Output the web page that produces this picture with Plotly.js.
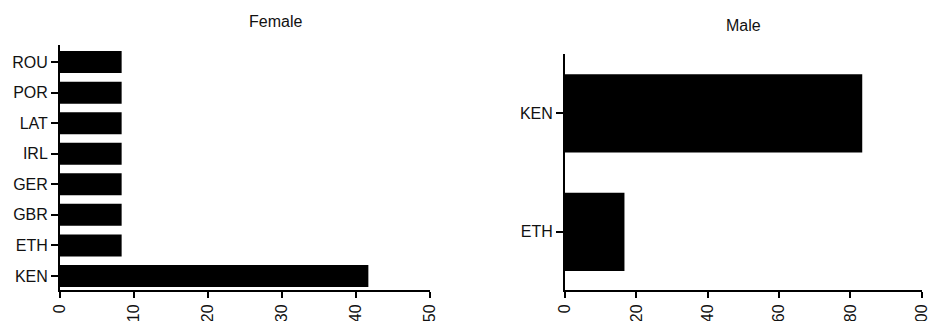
<!DOCTYPE html>
<html>
<head>
<meta charset="utf-8">
<script src="https://cdn.plot.ly/plotly-3.0.1.min.js"></script>
<style>html,body{margin:0;padding:0;background:#fff;}#chart{width:928px;height:321px;}</style>
</head>
<body>
<div id="chart"></div>
<script>
var femaleCategories = ["KEN", "ETH", "GBR", "GER", "IRL", "LAT", "POR", "ROU"];
var femaleValues = [41.67, 8.33, 8.33, 8.33, 8.33, 8.33, 8.33, 8.33];
var maleCategories = ["ETH", "KEN"];
var maleValues = [16.67, 83.33];
var femaleTicks = [0, 10, 20, 30, 40, 50];
var maleTicks = [0, 20, 40, 60, 80, 100];

var font = {family: "Liberation Sans, Arial, sans-serif", size: 16, color: "#111"};

var traces = [
  {type: "bar", orientation: "h", x: femaleValues, y: femaleCategories, xaxis: "x", yaxis: "y",
   width: 0.72, marker: {color: "#000", line: {width: 0}}, hoverinfo: "x+y"},
  {type: "bar", orientation: "h", x: maleValues, y: maleCategories, xaxis: "x2", yaxis: "y2",
   width: 0.66, marker: {color: "#000", line: {width: 0}}, hoverinfo: "x+y"}
];

var axisCommon = {showline: true, linecolor: "#000", linewidth: 2, ticks: "outside",
  tickcolor: "#000", tickwidth: 2, showgrid: false, zeroline: false, tickfont: font, fixedrange: true,
  ticklabeloverflow: "allow"};

var layout = {
  width: 928, height: 321,
  margin: {l: 0, r: 0, t: 0, b: 0},
  paper_bgcolor: "#fff", plot_bgcolor: "#fff",
  showlegend: false,
  font: font,
  xaxis: Object.assign({}, axisCommon, {domain: [60/928, 430/928], range: [0, 50],
    tickvals: femaleTicks, ticktext: femaleTicks.map(String), tickangle: -90, ticklen: 6, anchor: "y"}),
  yaxis: Object.assign({}, axisCommon, {domain: [31/321, 276/321], type: "category",
    categoryorder: "array", categoryarray: femaleCategories, range: [-0.46, 7.56], ticklen: 7, anchor: "x"}),
  xaxis2: Object.assign({}, axisCommon, {domain: [565/928, 921.7/928], range: [0, 100],
    tickvals: maleTicks, ticktext: maleTicks.map(String), tickangle: -90, ticklen: 6, anchor: "y2"}),
  yaxis2: Object.assign({}, axisCommon, {domain: [31/321, 267/321], type: "category",
    categoryorder: "array", categoryarray: maleCategories, range: [-0.49, 1.5], ticklen: 7, anchor: "x2"}),
  annotations: [
    {text: "Female", xref: "paper", yref: "paper", x: 275/928, y: 1 - 21.7/321, xanchor: "center", yanchor: "middle",
     showarrow: false, font: {family: font.family, size: 16, color: "#111"}},
    {text: "Male", xref: "paper", yref: "paper", x: 743/928, y: 1 - 25/321, xanchor: "center", yanchor: "middle",
     showarrow: false, font: {family: font.family, size: 16, color: "#111"}}
  ]
};

Plotly.newPlot("chart", traces, layout, {displayModeBar: false, staticPlot: true});
</script>
</body>
</html>
